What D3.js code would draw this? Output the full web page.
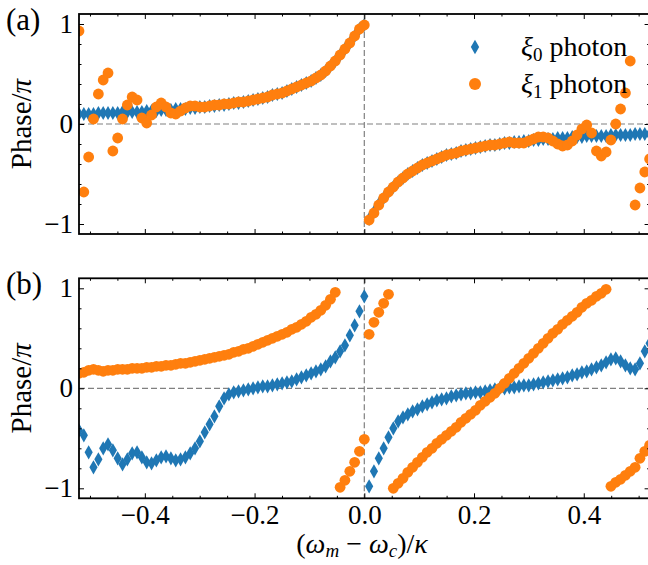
<!DOCTYPE html>
<html>
<head>
<meta charset="utf-8">
<script src="https://cdn.jsdelivr.net/npm/d3@7"></script>
<style>
  body { margin: 0; background: #fff; }
  svg { display: block; }
  svg text { font-family: "Liberation Serif", "Times New Roman", serif; fill: #000; }
  .tick line { stroke: #000; stroke-width: 1; }
</style>
</head>
<body>
<svg id="chart" width="648" height="565"></svg>
<script>
// detuning grid (omega_m - omega_c)/kappa
const xs = [
  -0.5200,-0.5112,-0.5024,-0.4936,-0.4847,-0.4759,-0.4671,-0.4583,-0.4495,-0.4407,
  -0.4319,-0.4231,-0.4142,-0.4054,-0.3966,-0.3878,-0.3790,-0.3702,-0.3614,-0.3525,
  -0.3437,-0.3349,-0.3261,-0.3173,-0.3085,-0.2997,-0.2908,-0.2820,-0.2732,-0.2644,
  -0.2556,-0.2468,-0.2380,-0.2292,-0.2203,-0.2115,-0.2027,-0.1939,-0.1851,-0.1763,
  -0.1675,-0.1586,-0.1498,-0.1410,-0.1322,-0.1234,-0.1146,-0.1058,-0.0969,-0.0881,
  -0.0793,-0.0705,-0.0617,-0.0529,-0.0441,-0.0353,-0.0264,-0.0176,-0.0088,0.0000,
  0.0088,0.0176,0.0264,0.0353,0.0441,0.0529,0.0617,0.0705,0.0793,0.0881,
  0.0969,0.1058,0.1146,0.1234,0.1322,0.1410,0.1498,0.1586,0.1675,0.1763,
  0.1851,0.1939,0.2027,0.2115,0.2203,0.2292,0.2380,0.2468,0.2556,0.2644,
  0.2732,0.2820,0.2908,0.2997,0.3085,0.3173,0.3261,0.3349,0.3437,0.3525,
  0.3614,0.3702,0.3790,0.3878,0.3966,0.4054,0.4142,0.4231,0.4319,0.4407,
  0.4495,0.4583,0.4671,0.4759,0.4847,0.4936,0.5024,0.5112,0.5200
]

// panel (a), phase / pi
const phaseA0 = [
  0.10,0.10,0.10,0.10,0.11,0.11,0.11,0.11,0.11,0.12,
  0.12,0.12,0.12,0.12,0.13,0.13,0.13,0.14,0.14,0.14,
  0.15,0.15,0.15,0.16,0.16,0.17,0.17,0.18,0.18,0.19,
  0.19,0.20,0.21,0.21,0.22,0.23,0.24,0.25,0.26,0.27,
  0.29,0.30,0.31,0.33,0.35,0.37,0.39,0.41,0.43,0.46,
  0.49,0.53,0.58,0.63,0.69,0.75,0.81,0.88,0.95,0.99,
  -0.95,-0.88,-0.80,-0.74,-0.68,-0.63,-0.58,-0.54,-0.50,-0.47,
  -0.44,-0.41,-0.39,-0.37,-0.35,-0.33,-0.31,-0.30,-0.29,-0.27,
  -0.26,-0.25,-0.24,-0.23,-0.22,-0.21,-0.21,-0.20,-0.19,-0.19,
  -0.18,-0.18,-0.17,-0.17,-0.16,-0.16,-0.15,-0.15,-0.15,-0.14,
  -0.14,-0.14,-0.13,-0.13,-0.13,-0.12,-0.12,-0.12,-0.12,-0.12,
  -0.11,-0.11,-0.11,-0.11,-0.11,-0.10,-0.10,-0.10,-0.10
]
const phaseA1 = [
  0.93,-0.68,-0.33,0.05,0.30,0.44,0.51,-0.27,-0.14,0.05,
  0.19,0.27,0.24,0.06,0.01,0.09,0.17,0.21,0.17,0.11,
  0.10,0.13,0.16,0.18,0.18,0.17,0.17,0.18,0.19,0.19,
  0.20,0.20,0.21,0.22,0.22,0.23,0.24,0.25,0.26,0.27,
  0.29,0.30,0.31,0.33,0.35,0.37,0.39,0.41,0.43,0.46,
  0.49,0.53,0.58,0.63,0.69,0.75,0.81,0.88,0.95,0.99,
  -0.96,-0.89,-0.81,-0.74,-0.68,-0.63,-0.58,-0.54,-0.50,-0.47,
  -0.44,-0.41,-0.39,-0.37,-0.35,-0.33,-0.31,-0.30,-0.29,-0.27,
  -0.26,-0.25,-0.24,-0.23,-0.22,-0.21,-0.21,-0.20,-0.19,-0.18,
  -0.19,-0.19,-0.19,-0.17,-0.15,-0.13,-0.13,-0.14,-0.17,-0.20,
  -0.22,-0.21,-0.17,-0.11,-0.05,-0.01,-0.09,-0.27,-0.32,-0.28,
  -0.16,0.00,0.15,0.31,0.63,-0.81,-0.64,-0.48,-0.35
]

// panel (b), phase / pi
const phaseB0 = [
  -0.42,-0.47,-0.64,-0.79,-0.71,-0.60,-0.56,-0.62,-0.70,-0.76,
  -0.71,-0.65,-0.64,-0.69,-0.74,-0.75,-0.72,-0.69,-0.68,-0.70,
  -0.72,-0.71,-0.69,-0.65,-0.60,-0.53,-0.44,-0.36,-0.28,-0.18,
  -0.10,-0.06,-0.04,-0.03,-0.02,-0.01,0.00,0.01,0.02,0.02,
  0.03,0.04,0.05,0.06,0.07,0.09,0.11,0.13,0.15,0.17,
  0.19,0.22,0.27,0.31,0.37,0.43,0.53,0.63,0.77,0.92,
  -0.98,-0.83,-0.70,-0.60,-0.49,-0.40,-0.33,-0.29,-0.26,-0.23,
  -0.21,-0.18,-0.16,-0.14,-0.12,-0.11,-0.10,-0.08,-0.07,-0.06,
  -0.05,-0.05,-0.04,-0.04,-0.03,-0.02,-0.01,0.00,0.00,0.01,
  0.01,0.02,0.03,0.03,0.04,0.05,0.06,0.07,0.08,0.09,
  0.10,0.11,0.13,0.14,0.16,0.17,0.19,0.21,0.23,0.26,
  0.29,0.30,0.27,0.23,0.20,0.19,0.25,0.37,0.45
]
const phaseB1 = [
  0.15,0.16,0.18,0.19,0.18,0.17,0.18,0.18,0.19,0.19,
  0.19,0.20,0.20,0.20,0.21,0.21,0.22,0.22,0.23,0.23,
  0.24,0.25,0.25,0.26,0.27,0.28,0.29,0.30,0.31,0.32,
  0.33,0.34,0.36,0.37,0.39,0.40,0.42,0.44,0.46,0.48,
  0.50,0.52,0.54,0.56,0.59,0.61,0.64,0.67,0.71,0.74,
  0.78,0.83,0.89,0.96,-0.99,-0.92,-0.83,-0.74,-0.63,-0.51,
  0.54,0.66,0.76,0.85,0.94,-1.00,-0.95,-0.90,-0.84,-0.79,
  -0.74,-0.69,-0.64,-0.60,-0.55,-0.51,-0.47,-0.43,-0.39,-0.34,
  -0.30,-0.26,-0.22,-0.17,-0.13,-0.09,-0.05,0.00,0.05,0.10,
  0.15,0.20,0.25,0.30,0.35,0.40,0.45,0.50,0.55,0.59,
  0.64,0.68,0.72,0.76,0.81,0.85,0.88,0.92,0.95,0.99,
  -0.98,-0.94,-0.91,-0.87,-0.83,-0.79,-0.70,-0.63,-0.57
]

const xTicks = [-0.4, -0.2, 0, 0.2, 0.4]
const xMinorTicks = [-0.5, -0.45, -0.35, -0.3, -0.25, -0.15, -0.1, -0.05, 0.05, 0.1, 0.15, 0.25, 0.3, 0.35, 0.45, 0.5]
const yTicks = [-1, 0, 1]
const yMinorTicks = [-0.8, -0.6, -0.4, -0.2, 0.2, 0.4, 0.6, 0.8]
const seriesSubs = ['0', '1']

const blue = '#1f77b4', orange = '#ff7f0e'
const serif = '"Liberation Serif", "Times New Roman", serif'
const ph = 220

const svg = d3.select('#chart')
const x = d3.scaleLinear().domain([-0.52, 0.52]).range([79, 649.6])
const [x0, x1] = x.range()

const panels = [
  { label: '(a)', top: 14, s0: phaseA0, s1: phaseA1, showX: false, legend: true },
  { label: '(b)', top: 278.3, s0: phaseB0, s1: phaseB1, showX: true, legend: false }
]

const diamond = d3.symbol(d3.symbolDiamond, 58)

panels.forEach((p, k) => {
  const y = d3.scaleLinear().domain([-1.1, 1.1]).range([p.top + ph, p.top])
  const g = svg.append('g')

  svg.append('clipPath').attr('id', 'clip' + k)
    .append('rect')
      .attr('x', x0).attr('y', p.top)
      .attr('width', x1 - x0).attr('height', ph)

  // zero guides
  const guides = g.append('g')
    .attr('stroke', '#808080')
    .attr('stroke-width', 1.2)
    .attr('stroke-dasharray', '6,3')
  guides.append('line')
    .attr('x1', x0).attr('x2', x1)
    .attr('y1', y(0)).attr('y2', y(0))
  guides.append('line')
    .attr('x1', x(0)).attr('x2', x(0))
    .attr('y1', p.top).attr('y2', p.top + ph)

  // markers
  const plot = g.append('g').attr('clip-path', `url(#clip${k})`)
  plot.selectAll('path.d0')
    .data(xs.map((v, i) => [v, p.s0[i]]))
    .join('path')
      .attr('class', 'd0')
      .attr('d', diamond)
      .attr('fill', blue)
      .attr('transform', d => `translate(${x(d[0])},${y(d[1])})`)
  plot.selectAll('circle.d1')
    .data(xs.map((v, i) => [v, p.s1[i]]))
    .join('circle')
      .attr('class', 'd1')
      .attr('cx', d => x(d[0]))
      .attr('cy', d => y(d[1]))
      .attr('r', 5.4)
      .attr('fill', orange)

  // axes, ticks pointing inward on all four sides
  const addAxis = (axis, tx, ty) => {
    const a = g.append('g').attr('transform', `translate(${tx},${ty})`).call(axis)
    a.attr('font-family', null).attr('font-size', null)
    a.selectAll('text').style('font-family', serif).style('font-size', '27px')
    a.select('.domain').remove()
    return a
  }
  const none = () => ''
  addAxis(d3.axisBottom(x).tickValues(xTicks).tickSizeInner(-5).tickSizeOuter(0).tickPadding(7)
    .tickFormat(p.showX ? d3.format('.1f') : none), 0, p.top + ph)
  addAxis(d3.axisBottom(x).tickValues(xMinorTicks).tickSizeInner(-2.5).tickSizeOuter(0).tickFormat(none), 0, p.top + ph)
  addAxis(d3.axisTop(x).tickValues(xTicks).tickSizeInner(-5).tickSizeOuter(0).tickFormat(none), 0, p.top)
  addAxis(d3.axisTop(x).tickValues(xMinorTicks).tickSizeInner(-2.5).tickSizeOuter(0).tickFormat(none), 0, p.top)
  addAxis(d3.axisLeft(y).tickValues(yTicks).tickSizeInner(-5).tickSizeOuter(0).tickPadding(6)
    .tickFormat(d3.format('d')), x0, 0)
  addAxis(d3.axisLeft(y).tickValues(yMinorTicks).tickSizeInner(-2.5).tickSizeOuter(0).tickFormat(none), x0, 0)
  addAxis(d3.axisRight(y).tickValues(yTicks).tickSizeInner(-5).tickSizeOuter(0).tickFormat(none), x1, 0)
  addAxis(d3.axisRight(y).tickValues(yMinorTicks).tickSizeInner(-2.5).tickSizeOuter(0).tickFormat(none), x1, 0)

  // frame
  g.append('rect')
    .attr('x', x0).attr('y', p.top)
    .attr('width', x1 - x0).attr('height', ph)
    .attr('fill', 'none').attr('stroke', '#000').attr('stroke-width', 1.8)

  // panel label
  svg.append('text')
    .attr('x', 6).attr('y', p.top + 16)
    .style('font-family', serif).style('font-size', '31px')
    .text(p.label)

  // y label
  const yl = svg.append('text')
    .attr('transform', `translate(31,${y(0)}) rotate(-90)`)
    .attr('text-anchor', 'middle')
    .style('font-family', serif).style('font-size', '29px')
  yl.append('tspan').text('Phase/')
  yl.append('tspan').attr('font-style', 'italic').text('π')

  // legend
  if (p.legend) {
    const lg = svg.append('g')
    const rows = [
      { sub: seriesSubs[0], color: blue, shape: 'diamond', cy: 47 },
      { sub: seriesSubs[1], color: orange, shape: 'circle', cy: 84 }
    ]
    rows.forEach(r => {
      if (r.shape === 'diamond') {
        lg.append('path').attr('d', d3.symbol(d3.symbolDiamond, 60))
          .attr('transform', `translate(475,${r.cy})`).attr('fill', r.color)
      } else {
        lg.append('circle').attr('cx', 475).attr('cy', r.cy).attr('r', 6).attr('fill', r.color)
      }
      const t = lg.append('text').attr('x', 521).attr('y', r.cy + 9)
        .style('font-family', serif).style('font-size', '28px')
      t.append('tspan').attr('font-style', 'italic').text('ξ')
      t.append('tspan').style('font-size', '19px').attr('dy', 5).text(r.sub)
      t.append('tspan').attr('dy', -5).text(' photon')
    })
  }
})

// x label
const xl = svg.append('text')
  .attr('x', 362).attr('y', 553)
  .attr('text-anchor', 'middle')
  .style('font-family', serif).style('font-size', '28px')
xl.append('tspan').text('(')
xl.append('tspan').attr('font-style', 'italic').text('ω')
xl.append('tspan').attr('font-style', 'italic').style('font-size', '19px').attr('dy', 4).text('m')
xl.append('tspan').attr('dy', -4).text(' − ')
xl.append('tspan').attr('font-style', 'italic').text('ω')
xl.append('tspan').attr('font-style', 'italic').style('font-size', '19px').attr('dy', 4).text('c')
xl.append('tspan').attr('dy', -4).text(')/')
xl.append('tspan').attr('font-style', 'italic').text('κ')
</script>
</body>
</html>
